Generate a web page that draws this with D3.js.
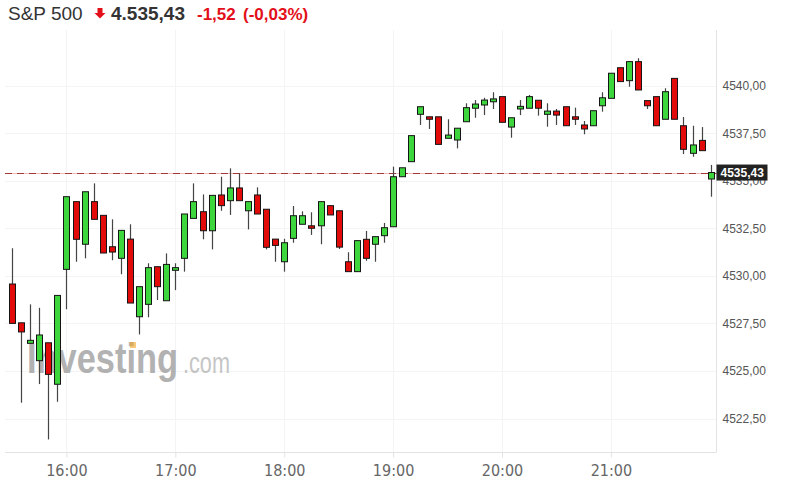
<!DOCTYPE html>
<html><head><meta charset="utf-8">
<script src="https://cdn.jsdelivr.net/npm/d3@7"></script>
<style>
html,body{margin:0;padding:0;background:#fff;}
svg{display:block;font-family:"Liberation Sans",Arial,sans-serif;}
</style></head>
<body><svg id="c" width="785" height="488"></svg>
<script>
const times = ["15:30","15:35","15:40","15:45","15:50","15:55","16:00","16:05","16:10","16:15","16:20","16:25","16:30","16:35","16:40","16:45","16:50","16:55",
"17:00","17:05","17:10","17:15","17:20","17:25","17:30","17:35","17:40","17:45","17:50","17:55",
"18:00","18:05","18:10","18:15","18:20","18:25","18:30","18:35","18:40","18:45","18:50","18:55",
"19:00","19:05","19:10","19:15","19:20","19:25","19:30","19:35","19:40","19:45","19:50","19:55",
"20:00","20:05","20:10","20:15","20:20","20:25","20:30","20:35","20:40","20:45","20:50","20:55",
"21:00","21:05","21:10","21:15","21:20","21:25","21:30","21:35","21:40","21:45","21:50","21:55"];
const open  = [4529.57,4527.53,4526.45,4525.54,4526.48,4524.30,4530.34,4533.90,4531.66,4533.90,4533.18,4531.53,4530.92,4531.93,4527.85,4528.50,4530.48,4528.69,4530.29,4530.92,4533.02,4533.37,4532.37,4534.25,4533.95,4534.62,4533.42,4534.25,4533.50,4531.93,4530.74,4531.97,4532.71,4532.63,4532.63,4533.69,4533.42,4530.74,4530.22,4531.92,4531.66,4532.11,4532.58,4535.21,4536.00,4538.49,4538.36,4538.36,4537.23,4537.14,4538.10,4538.81,4538.98,4539.15,4539.42,4537.82,4538.77,4538.81,4539.23,4538.49,4538.66,4538.89,4538.36,4537.93,4537.89,4538.94,4539.33,4540.94,4540.26,4541.26,4539.21,4539.42,4538.23,4540.38,4537.89,4536.44,4537.12,4535.09];
const high  = [4531.45,4527.53,4528.50,4528.32,4526.48,4528.97,4534.16,4533.90,4534.42,4534.86,4533.18,4532.97,4532.39,4532.71,4529.43,4530.66,4530.48,4531.18,4530.66,4533.25,4534.86,4534.28,4534.23,4535.21,4535.65,4535.39,4533.90,4534.65,4533.50,4531.93,4531.95,4533.67,4533.39,4533.34,4533.90,4533.69,4533.42,4531.24,4531.85,4532.36,4532.06,4532.78,4535.74,4535.68,4537.37,4538.89,4538.36,4538.36,4538.23,4537.76,4539.07,4539.24,4539.36,4539.65,4539.42,4538.31,4539.24,4539.51,4539.23,4539.07,4538.77,4538.89,4538.84,4538.14,4538.68,4539.65,4540.65,4540.94,4541.26,4541.44,4539.21,4539.42,4539.86,4540.38,4538.35,4537.89,4537.82,4535.83];
const low   = [4527.50,4523.33,4526.45,4524.31,4521.40,4523.38,4528.24,4530.74,4530.92,4532.97,4531.20,4530.82,4530.08,4528.57,4526.92,4527.82,4528.73,4528.69,4529.25,4530.22,4533.02,4531.92,4531.39,4533.42,4533.20,4533.95,4532.44,4533.25,4531.39,4530.74,4530.22,4531.74,4532.71,4532.15,4531.66,4533.20,4531.41,4530.22,4530.22,4530.79,4530.74,4531.74,4532.58,4535.21,4536.00,4537.93,4537.72,4536.91,4537.23,4536.70,4538.10,4538.31,4538.45,4538.77,4538.07,4537.26,4538.45,4538.81,4538.42,4537.84,4537.93,4537.89,4537.93,4537.44,4537.89,4538.63,4539.33,4540.21,4539.94,4539.77,4538.77,4537.89,4538.23,4538.23,4536.40,4536.26,4536.58,4534.16];
const close = [4527.50,4527.05,4526.61,4526.89,4524.82,4528.97,4534.16,4531.92,4534.42,4532.97,4531.20,4531.25,4532.39,4528.57,4529.43,4530.43,4529.43,4530.60,4530.43,4533.25,4533.90,4532.37,4534.23,4533.69,4534.62,4533.95,4533.90,4533.25,4531.50,4531.60,4531.74,4533.16,4533.16,4532.50,4533.90,4533.20,4531.51,4530.22,4531.85,4530.92,4532.06,4532.53,4535.21,4535.68,4537.37,4538.89,4538.23,4536.91,4537.40,4537.76,4538.84,4539.03,4539.24,4539.30,4538.07,4538.31,4538.91,4539.42,4538.81,4538.66,4538.45,4537.89,4538.23,4537.72,4538.68,4539.36,4540.65,4540.21,4541.26,4539.77,4538.94,4537.89,4539.68,4538.23,4536.65,4536.88,4536.58,4535.43];
const yTicks = [4522.5,4525,4527.5,4530,4532.5,4535,4537.5,4540];
const xTickLabels = ["16:00","17:00","18:00","19:00","20:00","21:00"];
const lastPrice = 4535.43;
const titleName = "S&P 500", titlePrice = "4.535,43", titleChange = "-1,52", titlePct = "(-0,03%)";

const svg = d3.select("#c");
const parse = d3.timeParse("%H:%M");
const L = 5, R = 716.5, T = 30, B = 452.5;
const x = d3.scaleTime().domain([parse(times[0]), parse(times[times.length-1])]).range([12, 710.7]);
const y = d3.scaleLinear().domain([4522.5, 4540]).range([418.5, 85.6]);
const fmt = v => d3.format(".2f")(v).replace(".", ",");

// grid
const g = svg.append("g");
g.selectAll(".hg").data(yTicks).join("line")
  .attr("x1", L).attr("x2", R).attr("y1", d => Math.round(y(d))+0.5).attr("y2", d => Math.round(y(d))+0.5)
  .attr("stroke", "#f4f4f4");
const xTickDates = xTickLabels.map(parse);
g.selectAll(".vg").data(xTickDates).join("line")
  .attr("x1", d => Math.round(x(d))+0.5).attr("x2", d => Math.round(x(d))+0.5).attr("y1", T).attr("y2", B)
  .attr("stroke", "#f4f4f4");

// watermark
const wm = svg.append("g").attr("opacity", 0.6);
wm.append("text").attr("x", 27).attr("y", 373).attr("font-size", 43).attr("font-weight", "bold")
  .attr("fill", "#808080").attr("textLength", 151).attr("lengthAdjust", "spacingAndGlyphs").text("Investing");
wm.append("text").attr("x", 183).attr("y", 373).attr("font-size", 30)
  .attr("fill", "#a0a0a0").attr("textLength", 47).attr("lengthAdjust", "spacingAndGlyphs").text(".com");

// axes lines
svg.append("line").attr("x1", L).attr("x2", R).attr("y1", B).attr("y2", B).attr("stroke", "#e3e3e3");
svg.append("line").attr("x1", R).attr("x2", R).attr("y1", T).attr("y2", B).attr("stroke", "#e3e3e3");

// x axis
const xAxis = d3.axisBottom(x).tickValues(xTickDates).tickFormat(d3.timeFormat("%H:%M")).tickSize(5).tickSizeOuter(0);
const xa = svg.append("g").attr("transform", `translate(0,${B})`).call(xAxis);
xa.select(".domain").remove();
xa.selectAll(".tick line").attr("stroke", "#e3e3e3");
xa.selectAll(".tick text").attr("fill", "#666").attr("font-size", 16).attr("dy", "0.95em")
  .attr("font-family", "'Liberation Sans Narrow','DejaVu Sans Condensed',sans-serif");

// y axis
const yAxis = d3.axisRight(y).tickValues(yTicks).tickFormat(fmt).tickSize(0).tickPadding(6);
const ya = svg.append("g").attr("transform", `translate(${R},0)`).call(yAxis);
ya.select(".domain").remove();
ya.selectAll(".tick text").attr("fill", "#555").attr("font-size", 12).attr("font-family", "'Liberation Sans',Arial,sans-serif");

// last price line
const ly = Math.round(y(lastPrice)) + 0.5;
svg.append("line").attr("x1", L).attr("x2", R).attr("y1", ly).attr("y2", ly).attr("stroke", "#f2bcbc");
svg.append("line").attr("x1", L).attr("x2", R).attr("y1", ly).attr("y2", ly).attr("stroke", "#a33a3a").attr("stroke-dasharray", "7,5");

// candles
const data = times.map((t,i) => ({t: parse(t), o: open[i], h: high[i], l: low[i], c: close[i]}));
const cg = svg.append("g");
const bw = 6;
const cs = cg.selectAll("g").data(data).join("g");
cs.append("line").attr("x1", d => Math.round(x(d.t))+0.5).attr("x2", d => Math.round(x(d.t))+0.5)
  .attr("y1", d => y(d.h)).attr("y2", d => y(d.l)).attr("stroke", "#444").attr("stroke-width", 1.2);
cs.append("rect").attr("x", d => Math.round(x(d.t)) - bw/2 + 0.5).attr("width", bw)
  .attr("y", d => y(Math.max(d.o, d.c)))
  .attr("height", d => Math.max(1.5, Math.abs(y(d.o) - y(d.c))))
  .attr("fill", d => d.c >= d.o ? "#3dd63d" : "#e30a0a").attr("stroke", "#151515").attr("stroke-width", 1);

// orange dot of watermark
svg.append("rect").attr("x", 130).attr("y", 342).attr("width", 6).attr("height", 6).attr("fill", "#f5a623").attr("opacity", 0.6);

// price tag
const tag = svg.append("g");
tag.append("rect").attr("x", R).attr("y", y(lastPrice) - 8).attr("width", 51).attr("height", 16).attr("fill", "#222");
tag.append("text").attr("x", R + 4).attr("y", y(lastPrice)).attr("dy", "0.35em").attr("fill", "#fff")
  .attr("font-size", 12).attr("font-weight", "bold").text(fmt(lastPrice));

// header
const h = svg.append("text").attr("x", 8).attr("y", 20).attr("font-size", 19);
h.append("tspan").attr("fill", "#333").text(titleName);
svg.append("path").attr("d", "M97.5,8 h5 v5 h3 l-5.5,5.5 l-5.5,-5.5 h3 z").attr("fill", "#e3101a");
const h2 = svg.append("text").attr("x", 111).attr("y", 20).attr("font-size", 19).attr("font-weight", "bold");
h2.append("tspan").attr("fill", "#333").text(titlePrice);
h2.append("tspan").attr("x", 197).attr("fill", "#e3101a").attr("font-size", 17).text(titleChange);
h2.append("tspan").attr("x", 243).attr("fill", "#e3101a").attr("font-size", 17).text(titlePct);
</script></body></html>
